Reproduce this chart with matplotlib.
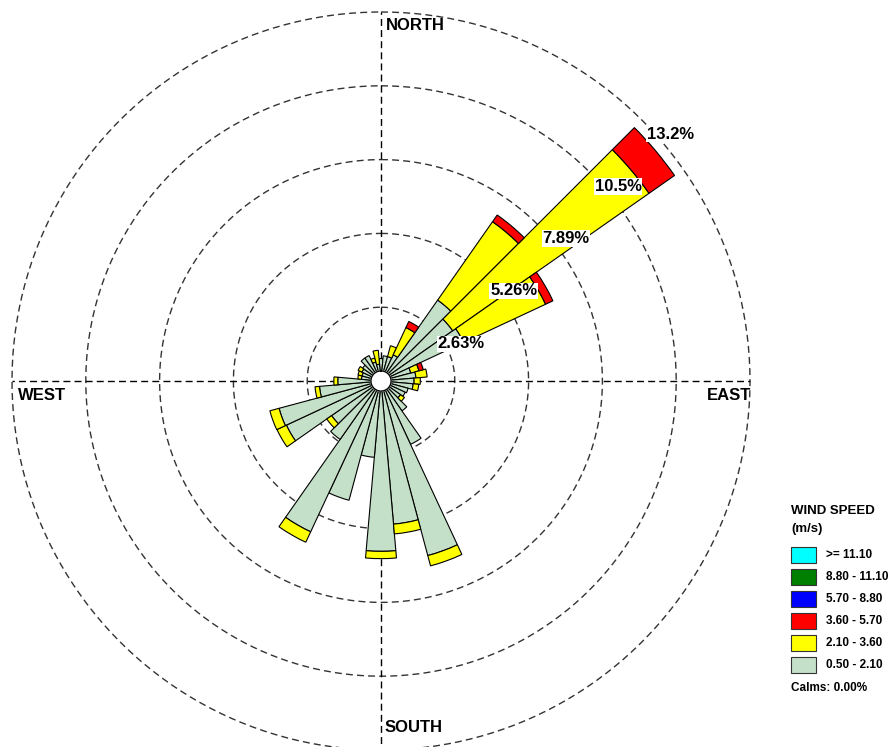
import numpy as np
import matplotlib
matplotlib.use("Agg")
import matplotlib.pyplot as plt
from matplotlib.patches import Rectangle

plt.rcParams["font.family"] = ["Liberation Sans", "DejaVu Sans"]

# frequency (%) per 10-degree sector, by speed class
directions = np.arange(0, 360, 10)
freq_050_210 = [0.80, 0.90, 0.90, 1.03, 3.52, 3.12, 3.25, 1.10, 1.25, 1.18,
                1.15, 1.00, 0.95, 0.85, 1.30, 2.49, 6.44, 5.12, 6.07, 2.73,
                4.40, 5.93, 2.54, 2.15, 3.72, 3.76, 2.20, 1.54, 0.70, 0.70,
                0.75, 0.80, 1.00, 1.00, 0.70, 0.60]
freq_210_360 = [0.00, 0.00, 0.40, 1.07, 3.41, 8.54, 3.22, 0.30, 0.40, 0.22,
                0.20, 0.00, 0.00, 0.17, 0.00, 0.00, 0.38, 0.35, 0.26, 0.00,
                0.00, 0.41, 0.00, 0.21, 0.37, 0.34, 0.16, 0.14, 0.13, 0.15,
                0.15, 0.00, 0.00, 0.00, 0.15, 0.50]
freq_360_570 = [0.00, 0.00, 0.00, 0.24, 0.29, 1.11, 0.29, 0.16, 0.00, 0.00,
                0.00, 0.00, 0.00, 0.00, 0.00, 0.00, 0.00, 0.00, 0.00, 0.00,
                0.00, 0.00, 0.00, 0.00, 0.00, 0.00, 0.00, 0.00, 0.00, 0.00,
                0.00, 0.00, 0.00, 0.00, 0.00, 0.00]

ring_values = [2.63, 5.26, 7.89, 10.52, 13.15]
ring_labels = ["2.63%", "5.26%", "7.89%", "10.5%", "13.2%"]

legend_labels = [">= 11.10", "8.80 - 11.10", "5.70 - 8.80",
                 "3.60 - 5.70", "2.10 - 3.60", "0.50 - 2.10"]
legend_colors = ["#00ffff", "#007f00", "#0000ff", "#ff0000", "#ffff00", "#c4e0c8"]
calms = 0.00

W, H = 893, 747
fig = plt.figure(figsize=(W / 100, H / 100), dpi=100)
cx, cy, rad = 381, 381, 369
ax = fig.add_axes([(cx - rad) / W, (H - cy - rad) / H, 2 * rad / W, 2 * rad / H],
                  projection="polar")
ax.set_theta_zero_location("N")
ax.set_theta_direction(-1)
rmax = ring_values[-1]
ax.set_ylim(0, rmax)
ax.axis("off")

# dashed rings and the four axes
t = np.linspace(0, 2 * np.pi, 400)
for rv in ring_values:
    ax.plot(t, np.full_like(t, rv), color="#333333", lw=1, ls=(0, (5, 3)),
            zorder=1, clip_on=False)
for a in [0, 90, 180, 270]:
    ax.plot([np.deg2rad(a)] * 2, [0, rmax], color="black", lw=1,
            ls=(0, (5, 3)), zorder=1, clip_on=False)

# stacked bars
theta = np.deg2rad(directions)
width = np.deg2rad(10)
bottom = np.zeros(len(directions))
for vals, col in [(freq_050_210, legend_colors[5]),
                  (freq_210_360, legend_colors[4]),
                  (freq_360_570, legend_colors[3])]:
    vals = np.array(vals)
    m = vals > 0
    ax.bar(theta[m], vals[m], width=width, bottom=bottom[m], color=col,
           edgecolor="black", linewidth=0.8, zorder=3)
    bottom += vals

# calm circle
ax.fill(t, np.full_like(t, 0.36), color="white", zorder=4)
ax.plot(t, np.full_like(t, 0.36), color="black", lw=1, zorder=4)

# ring labels along an offset diagonal
d = 0.68
for rv, lab in zip(ring_values, ring_labels):
    r = rv - 0.22
    east = (d + np.sqrt(2 * r * r - d * d)) / 2
    north = east - d
    ax.text(np.arctan2(east, north), r, lab, fontsize=12, fontweight="bold",
            ha="left", va="center", zorder=6,
            bbox=dict(facecolor="white", edgecolor="none", pad=0.5))

# compass labels
def ftext(x, y, s, **kw):
    fig.text(x / W, 1 - y / H, s, ha="left", va="center", fontweight="bold", **kw)

ftext(386, 26, "NORTH", fontsize=12)
ftext(18, 395, "WEST", fontsize=12)
ftext(707, 395, "EAST", fontsize=12)
ftext(385, 728, "SOUTH", fontsize=12)

# legend
ftext(791, 511, "WIND SPEED", fontsize=9.5)
ftext(791, 529, "(m/s)", fontsize=9.5)
for i, (lab, col) in enumerate(zip(legend_labels, legend_colors)):
    yc = 555 + 22 * i
    fig.add_artist(Rectangle((791 / W, 1 - (yc + 8) / H), 25 / W, 16 / H,
                             transform=fig.transFigure, facecolor=col,
                             edgecolor="#333333", linewidth=0.8))
    ftext(826, yc, lab, fontsize=8.5)
ftext(791, 688, f"Calms: {calms:.2f}%", fontsize=8.5)

fig.savefig("out.png", dpi=100)
